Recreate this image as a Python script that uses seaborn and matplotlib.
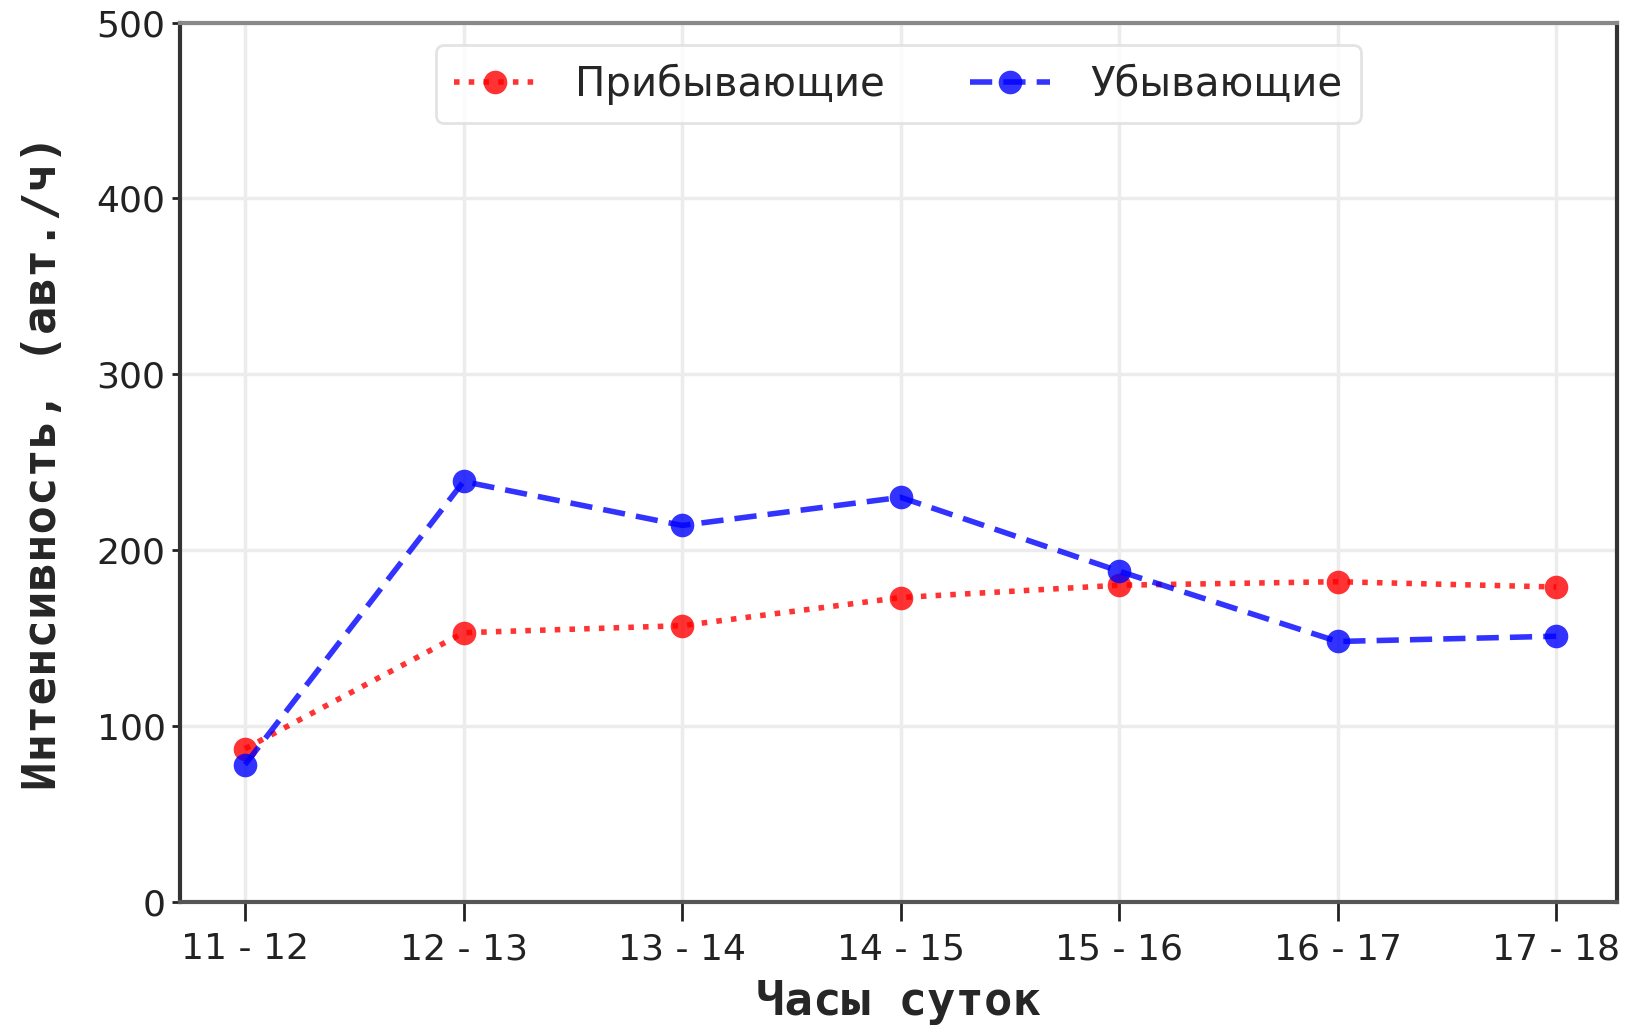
import matplotlib
matplotlib.use("Agg")
import matplotlib.pyplot as plt
import seaborn as sns
import pandas as pd

hours = ["11 - 12", "12 - 13", "13 - 14", "14 - 15", "15 - 16", "16 - 17", "17 - 18"]
arriving = [87, 153, 157, 173, 180, 182, 179]
departing = [78, 239, 214, 230, 188, 148, 151]
label_arr = "Прибывающие"
label_dep = "Убывающие"
y_ticks = [0, 100, 200, 300, 400, 500]

sns.set_theme(style="whitegrid")
plt.rcParams["font.family"] = ["DejaVu Sans"]

fig = plt.figure(figsize=(16.32, 10.27), dpi=100)
ax = fig.add_axes([0.110, 0.122, 0.881, 0.856])

xpos = list(range(len(hours)))
df_a = pd.DataFrame({"x": xpos, "y": arriving})
df_d = pd.DataFrame({"x": xpos, "y": departing})

sns.lineplot(data=df_a, x="x", y="y", ax=ax, color="red", linestyle=":",
             marker="o", markersize=17, linewidth=4, alpha=0.8,
             markeredgewidth=0, label=label_arr)
sns.lineplot(data=df_d, x="x", y="y", ax=ax, color="blue", linestyle=(0, (4, 2)),
             marker="o", markersize=17, linewidth=4, alpha=0.8,
             markeredgewidth=0, label=label_dep)

ax.set_xlim(-0.3, 6.28)
ax.set_ylim(0, 500)
ax.set_xticks(xpos)
ax.set_xticklabels(hours)
ax.set_yticks(y_ticks)
ax.tick_params(axis="both", labelsize=26, colors="#222222", length=8, width=2,
               direction="out", left=True, bottom=True)
ax.tick_params(axis="x", length=14, pad=8)
ax.tick_params(axis="y", length=6, pad=4)

ax.grid(True, color="#ececec", linewidth=2.5)
for side in ["left", "bottom", "right", "top"]:
    ax.spines[side].set_visible(True)
    ax.spines[side].set_linewidth(3)
ax.spines["left"].set_color("#333333")
ax.spines["right"].set_color("#333333")
ax.spines["top"].set_color("#888888")
ax.spines["bottom"].set_color("#555555")

ax.set_xlabel("Часы суток", fontsize=34, fontweight="bold", labelpad=10,
              family="DejaVu Sans Mono")
ax.set_ylabel("Интенсивность, (авт./ч)", fontsize=34, fontweight="bold", labelpad=22,
              family="DejaVu Sans Mono")

leg = ax.legend(loc="upper center", bbox_to_anchor=(0.5, 0.997), ncol=2, fontsize=29,
                frameon=True, handlelength=2.0, handletextpad=1.0, columnspacing=2.1,
                borderpad=0.45)
leg.get_frame().set_edgecolor("#dddddd")
leg.get_frame().set_linewidth(2)

fig.savefig("out.png", dpi=100)
